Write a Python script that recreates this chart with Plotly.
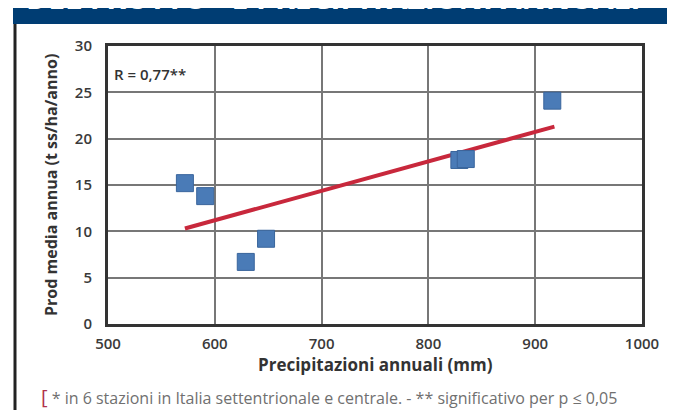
import plotly.graph_objects as go

# Data
precip_mm = [572, 591, 629, 648, 829, 835, 916]
prod_t = [15.2, 13.8, 6.7, 9.2, 17.7, 17.8, 24.1]
trend_x = [572, 918]
trend_y = [10.3, 21.3]
x_ticks = [500, 600, 700, 800, 900, 1000]
y_ticks = [0, 5, 10, 15, 20, 25, 30]

FONT = "Open Sans"
W, H = 675, 410
L, R, T, B = 100, 41, 38, 94
pw, ph = W - L - R, H - T - B


def px(x):
    return (x - L) / pw


def py(y):
    return (H - B - y) / ph


fig = go.Figure()
fig.add_trace(go.Scatter(
    x=trend_x, y=trend_y, mode="lines",
    line=dict(color="#c8283c", width=4), showlegend=False, hoverinfo="skip"))
fig.add_trace(go.Scatter(
    x=precip_mm, y=prod_t, mode="markers",
    marker=dict(symbol="square", size=17, color="#4a7bb7",
                line=dict(color="#3a659c", width=1)),
    showlegend=False))

axis_common = dict(
    showline=True, linecolor="#333333", linewidth=3, mirror=True,
    showgrid=True, gridcolor="#777777", gridwidth=1.5,
    zeroline=False, ticks="",
    tickfont=dict(family=FONT, size=15, color="#3a3a3a", weight=600),
)

fig.update_layout(
    width=W, height=H,
    margin=dict(l=L, r=R, t=T, b=B),
    paper_bgcolor="white", plot_bgcolor="white",
    font=dict(family=FONT),
    xaxis=dict(range=[500, 1000], tickvals=x_ticks, ticklabelstandoff=4, **axis_common),
    yaxis=dict(range=[0, 30], tickvals=y_ticks, ticklabelstandoff=10, **axis_common),
    shapes=[
        dict(type="rect", xref="paper", yref="paper",
             x0=px(5), x1=px(680), y0=py(16), y1=py(-5),
             fillcolor="#003d73", line=dict(width=0), layer="below"),
        dict(type="line", xref="paper", yref="paper",
             x0=px(7), x1=px(7), y0=py(16), y1=py(415),
             line=dict(color="#222222", width=3)),
    ],
    annotations=[
        dict(xref="paper", yref="paper", x=px(16), y=py(12),
             xanchor="left", yanchor="bottom", showarrow=False,
             text="DEL FRUTTO* E PRECIPITAZIONI ANNUALI",
             font=dict(family=FONT, size=30, color="white", weight=700)),
        dict(xref="paper", yref="paper", x=px(104), y=py(66),
             xanchor="left", yanchor="middle", showarrow=False,
             text="R = 0,77**",
             font=dict(family=FONT, size=15, color="#333333", weight=600)),
        dict(xref="paper", yref="paper", x=px(43), y=py(177),
             xanchor="center", yanchor="middle", showarrow=False, textangle=-90,
             text="Prod media annua (t ss/ha/anno)",
             font=dict(family=FONT, size=16, color="#333333", weight=700)),
        dict(xref="paper", yref="paper", x=px(367), y=py(356),
             xanchor="center", yanchor="middle", showarrow=False,
             text="Precipitazioni annuali (mm)",
             font=dict(family=FONT, size=17, color="#333333", weight=700)),
        dict(xref="paper", yref="paper", x=px(31), y=py(388),
             xanchor="left", yanchor="middle", showarrow=False,
             text="<span style='color:#b0324a;font-size:20px'>[</span> * in 6 stazioni in Italia settentrionale e centrale. - ** significativo per p ≤ 0,05",
             font=dict(family=FONT, size=16, color="#707070")),
    ],
)

fig.write_html("out.html")
